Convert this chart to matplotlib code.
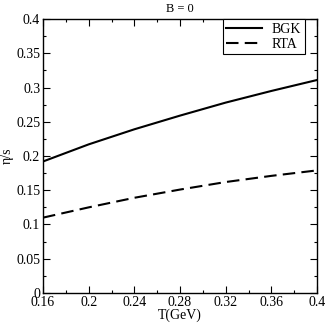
import matplotlib
matplotlib.use("Agg")
import matplotlib.pyplot as plt
from matplotlib.ticker import MultipleLocator

plt.rcParams['font.family'] = ['Liberation Serif', 'DejaVu Serif']
plt.rcParams['font.size'] = 10

T = [0.16, 0.20, 0.24, 0.28, 0.32, 0.36, 0.40]
bgk = [0.192, 0.217, 0.239, 0.259, 0.278, 0.295, 0.311]
rta = [0.110, 0.125, 0.139, 0.151, 0.162, 0.171, 0.179]
xticks = [0.16, 0.2, 0.24, 0.28, 0.32, 0.36, 0.4]
yticks = [0, 0.05, 0.1, 0.15, 0.2, 0.25, 0.3, 0.35, 0.4]

fig = plt.figure(figsize=(3.27, 3.23), dpi=100)
ax = fig.add_axes([0.1315, 0.093, 0.838, 0.848])

ax.plot(T, bgk, color='black', lw=1.5, label='BGK')
ax.plot(T, rta, color='black', lw=1.5, ls=(0, (6, 3)), label='RTA')

ax.set_xlim(0.16, 0.4)
ax.set_ylim(0, 0.4)
ax.set_xticks(xticks)
ax.set_xticklabels([f'{v:g}' for v in xticks])
ax.set_yticks(yticks)
ax.set_yticklabels([f'{v:g}' for v in yticks])
ax.xaxis.set_minor_locator(MultipleLocator(0.02))
ax.yaxis.set_minor_locator(MultipleLocator(0.025))
ax.tick_params(which='both', direction='in', top=True, right=True)
ax.tick_params(which='major', length=5, width=0.8, pad=2)
ax.tick_params(which='minor', length=2.5, width=0.8)
for s in ax.spines.values():
    s.set_linewidth(1.0)

ax.set_xlabel('T(GeV)', labelpad=0)
ax.set_ylabel('η/s', labelpad=2)
ax.set_title('B = 0', fontsize=9, pad=5)

leg = ax.legend(loc='upper right', fancybox=False, edgecolor='black',
                framealpha=1, borderaxespad=0.0, handlelength=2.6,
                borderpad=0.25, labelspacing=0.15, handletextpad=0.7,
                bbox_to_anchor=(0.955, 1.0))
leg.get_frame().set_linewidth(0.8)

fig.savefig('out.png', dpi=100)
